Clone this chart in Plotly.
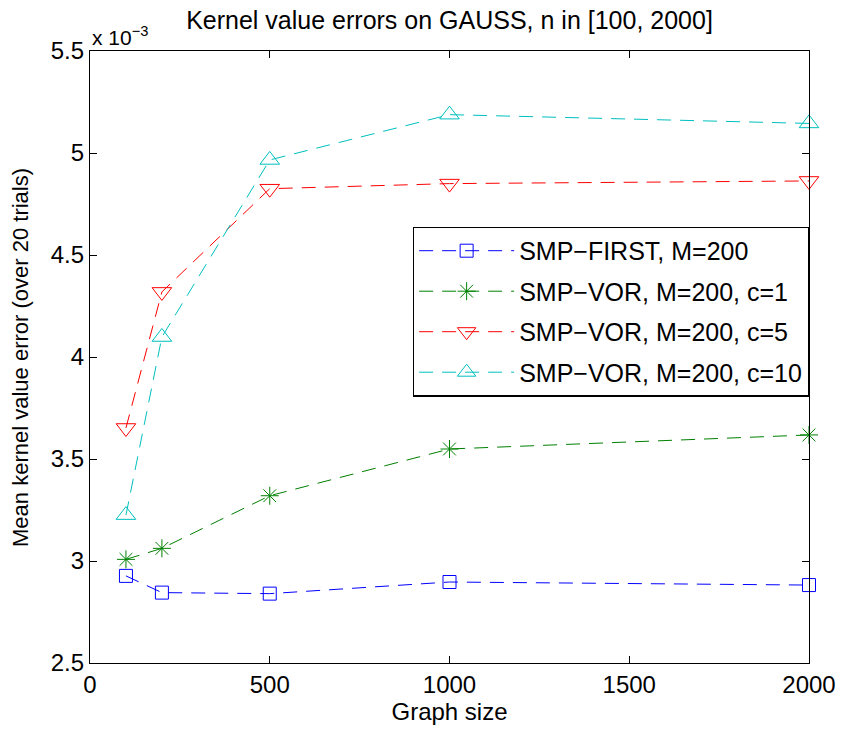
import plotly.graph_objects as go

graph_sizes = [100, 200, 500, 1000, 2000]
smp_first = [2.927, 2.845, 2.840, 2.897, 2.882]
smp_vor_c1 = [3.008, 3.062, 3.320, 3.549, 3.618]
smp_vor_c5 = [3.652, 4.319, 4.825, 4.850, 4.863]
smp_vor_c10 = [3.225, 4.098, 4.966, 5.188, 5.145]
names = ["SMP\u2212FIRST, M=200", "SMP\u2212VOR, M=200, c=1",
         "SMP\u2212VOR, M=200, c=5", "SMP\u2212VOR, M=200, c=10"]
colors = ["#0000ff", "#008000", "#ff0000", "#00bfbf"]
symbols = ["square-open", "asterisk-open", "triangle-down-open", "triangle-up-open"]
sizes = [13, 15, 17, 17]
xticks = [0, 500, 1000, 1500, 2000]
yticks = [2.5, 3, 3.5, 4, 4.5, 5, 5.5]

fig = go.Figure()
for i, (ys, nm, c, s, sz) in enumerate(zip([smp_first, smp_vor_c1, smp_vor_c5, smp_vor_c10], names, colors, symbols, sizes)):
    fig.add_trace(go.Scatter(
        x=graph_sizes, y=ys, name=nm, mode="lines+markers", legendgroup="g%d" % i,
        line=dict(color=c, width=1, dash="14px,9px"),
        marker=dict(symbol=s, size=sz, color=c, line=dict(color=c, width=1)),
        cliponaxis=False,
    ))

font = "Liberation Sans, Arial, sans-serif"
fig.update_layout(
    width=841, height=734,
    margin=dict(l=90, r=32, t=51, b=71),
    paper_bgcolor="white", plot_bgcolor="white",
    font=dict(family=font, color="black", size=24),
    title=dict(text="Kernel value errors on GAUSS, n in [100, 2000]",
               x=0.5345, xanchor="center", y=0.972, yanchor="middle",
               font=dict(size=25)),
    xaxis=dict(range=[0, 2000], tickvals=xticks, ticktext=[str(v) for v in xticks],
               ticks="inside", ticklen=7, tickcolor="black", showgrid=False, automargin=False,
               zeroline=False, showline=True, linecolor="black", linewidth=1.3, mirror="ticks",
               title=dict(text="Graph size", font=dict(size=24), standoff=0),
               tickfont=dict(size=24)),
    yaxis=dict(range=[2.5, 5.5], tickvals=yticks, ticktext=["2.5", "3", "3.5", "4", "4.5", "5", "5.5"],
               ticks="inside", ticklen=7, tickcolor="black", showgrid=False, automargin=False,
               zeroline=False, showline=True, linecolor="black", linewidth=1.3, mirror="ticks",
               tickfont=dict(size=24)),
    legend=dict(x=0.449, y=0.713, xanchor="left", yanchor="top",
                bgcolor="white", bordercolor="black", borderwidth=1.3,
                font=dict(size=25), itemwidth=95, tracegroupgap=5),
    showlegend=True,
)
fig.add_annotation(text="Mean kernel value error (over 20 trials)", textangle=-90,
                   xref="paper", yref="paper", x=-0.0974, y=0.5,
                   xanchor="center", yanchor="middle", showarrow=False,
                   font=dict(size=22))
fig.add_annotation(text="x 10<sup>\u22123</sup>", xref="paper", yref="paper",
                   x=0, y=1.0, xanchor="left", yanchor="bottom", showarrow=False,
                   font=dict(size=21), yshift=0)

fig.write_html("out.html")
